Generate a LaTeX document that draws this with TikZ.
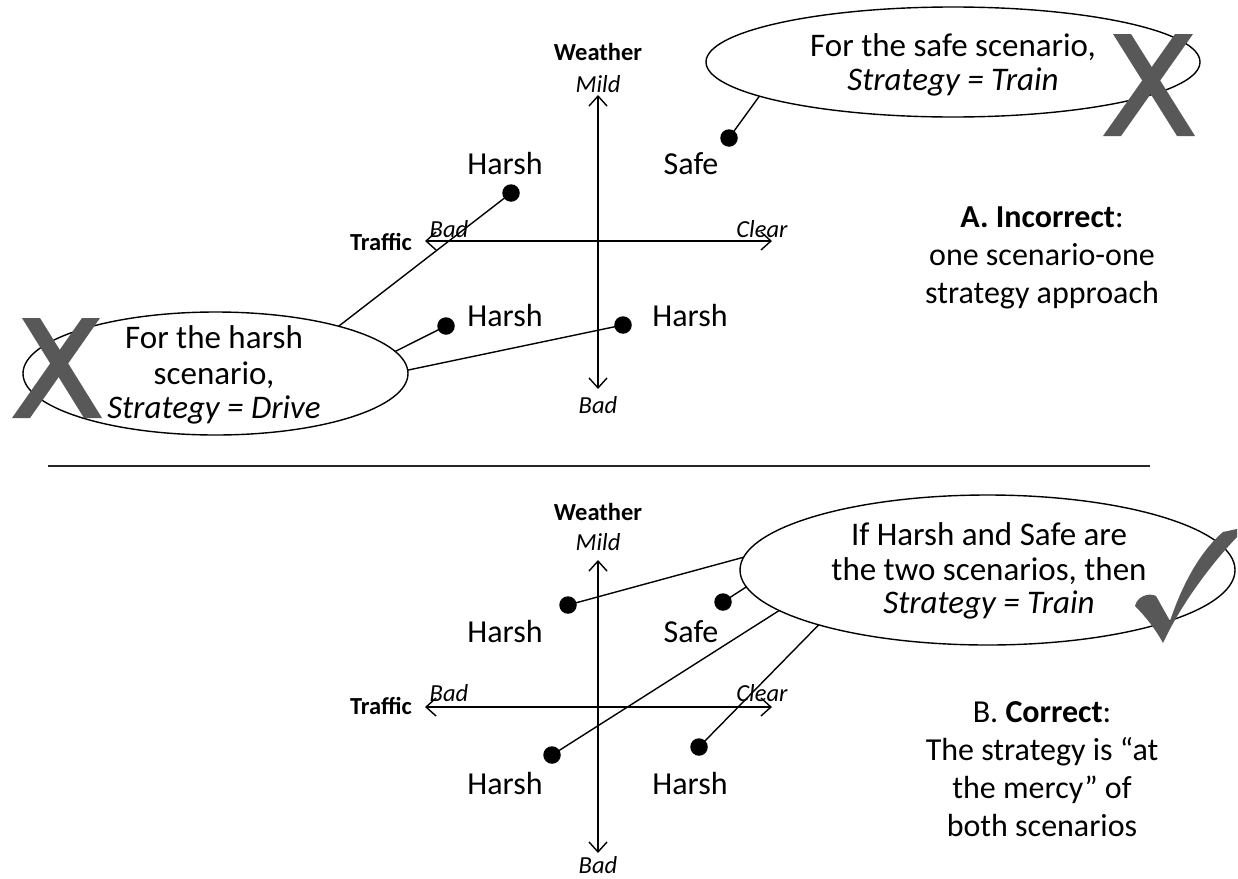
\documentclass[tikz,border=0pt]{standalone}
\usepackage{fontspec}
\setmainfont{Carlito}
\usetikzlibrary{shapes.geometric,arrows.meta}
\definecolor{markgray}{RGB}{88,88,88}
\begin{document}
\begin{tikzpicture}[x=1pt,y=-1pt,
  axis/.style={line width=1.4pt,{Straight Barb[length=10pt,width=18pt]}-{Straight Barb[length=10pt,width=18pt]}},
  conn/.style={line width=1.4pt},
  dotnode/.style={circle,fill=black,inner sep=0pt,minimum size=17.5pt},
  axlab/.style={font=\fontsize{24.5}{28}\selectfont\itshape,inner sep=0pt,anchor=base},
  axname/.style={font=\fontsize{24.5}{28}\selectfont\bfseries,inner sep=0pt,anchor=base},
  scen/.style={font=\fontsize{32}{36}\selectfont,inner sep=0pt,anchor=base},
  bubble/.style={ellipse,draw,line width=1.4pt,inner sep=0pt,outer sep=0pt},
  btext/.style={font=\fontsize{33}{36}\selectfont,inner sep=0pt,anchor=base},
  rtext/.style={font=\fontsize{32}{36}\selectfont,inner sep=0pt,anchor=base},
  graymark/.style={fill=markgray}]
\useasboundingbox (0,0) rectangle (1238,878);
% ---------- top panel ----------
\coordinate (tvt) at (598,95);
\coordinate (tvb) at (598,389);
\coordinate (thl) at (425,241);
\coordinate (thr) at (772,241);
\draw[axis] (tvb) -- (tvt);
\draw[axis] (thl) -- (thr);
\node[axname] (tw) at (598,60) {Weather};
\node[axlab] (tm) at (598,92) {Mild};
\node[axname] (tt) at (381,250) {Traffic};
\node[axlab] (tbl) at (449,237) {Bad};
\node[axlab] (tc) at (762,237) {Clear};
\node[axlab] (tbb) at (598,413) {Bad};
\node[scen] (th1) at (505,174) {Harsh};
\node[scen] (ts) at (691,174) {Safe};
\node[scen] (th2) at (505,326) {Harsh};
\node[scen] (th3) at (690,326) {Harsh};
\node[bubble,minimum width=494pt,minimum height=110pt] (TE) at (953,62) {};
\node[btext] (TE1) at (953,56) {For the safe scenario,};
\node[btext] (TE2) at (953,90) {\itshape Strategy = Train};
\node[bubble,minimum width=385pt,minimum height=123pt] (LE) at (215.5,373.5) {};
\node[btext] (LE1) at (214,348) {For the harsh};
\node[btext] (LE2) at (214,384) {scenario,};
\node[btext] (LE3) at (214,418) {\itshape Strategy = Drive};
\node[dotnode] (d1) at (511,193) {};
\node[dotnode] (d2) at (729,138) {};
\node[dotnode] (d3) at (446,326) {};
\node[dotnode] (d4) at (623,325) {};
\draw[conn] (d2.center) -- (TE.190.7);
\draw[conn] (d1.center) -- (LE.21.6);
\draw[conn] (d3.center) -- (LE.7.6);
\draw[conn] (d4.center) -- (LE.1);
% crosses
\fill[graymark] (1113,34) -- (1131,34) -- (1195,136) -- (1177,136) -- cycle;
\fill[graymark] (1175,34) -- (1193,34) -- (1121,136) -- (1103,136) -- cycle;
\fill[graymark] (22,318) -- (40,318) -- (102,418) -- (84,418) -- cycle;
\fill[graymark] (82,318) -- (100,318) -- (30,418) -- (12,418) -- cycle;
\node[rtext] (A1) at (1042,227) {\textbf{A. Incorrect}:};
\node[rtext] (A2) at (1042,265) {one scenario-one};
\node[rtext] (A3) at (1042,303) {strategy approach};
% separator
\coordinate (s1) at (48,466);
\coordinate (s2) at (1150,466);
\draw[line width=2pt,black!85] (s1) -- (s2);
% ---------- bottom panel ----------
\coordinate (bvt) at (598,560);
\coordinate (bvb) at (598,853);
\coordinate (bhl) at (425,707);
\coordinate (bhr) at (772,707);
\draw[axis] (bvb) -- (bvt);
\draw[axis] (bhl) -- (bhr);
\node[axname] (bw) at (598,520) {Weather};
\node[axlab] (bm) at (598,550) {Mild};
\node[axname] (bt) at (381,714) {Traffic};
\node[axlab] (bbl) at (449,701) {Bad};
\node[axlab] (bc) at (762,701) {Clear};
\node[axlab] (bbb) at (598,873) {Bad};
\node[scen] (bh1) at (505,642) {Harsh};
\node[scen] (bs) at (691,642) {Safe};
\node[scen] (bh2) at (505,794) {Harsh};
\node[scen] (bh3) at (690,794) {Harsh};
\node[bubble,minimum width=495pt,minimum height=150pt] (BE) at (987.5,570) {};
\node[btext] (BE1) at (989,545) {If Harsh and Safe are};
\node[btext] (BE2) at (989,580) {the two scenarios, then};
\node[btext] (BE3) at (989,613) {\itshape Strategy = Train};
\node[dotnode] (e1) at (568,605) {};
\node[dotnode] (e2) at (723,602) {};
\node[dotnode] (e3) at (552,755) {};
\node[dotnode] (e4) at (699,747) {};
\draw[conn] (e1.center) -- (BE.177.2);
\draw[conn] (e2.center) -- (BE.184.4);
\draw[conn] (e3.center) -- (BE.191);
\draw[conn] (e4.center) -- (BE.198);
% check mark
\fill[graymark] (1135,606) .. controls (1137,597) and (1148,592) .. (1156,596)
  -- (1170,621) .. controls (1179,594) and (1196,555) .. (1223,532)
  -- (1237,529) -- (1237,537) .. controls (1212,563) and (1181,604) .. (1163,643)
  .. controls (1156,630) and (1146,617) .. (1135,606) -- cycle;
\node[rtext] (B1) at (1042,722) {B. \textbf{Correct}:};
\node[rtext] (B2) at (1042,760) {The strategy is “at};
\node[rtext] (B3) at (1042,798) {the mercy” of};
\node[rtext] (B4) at (1042,836) {both scenarios};
\end{tikzpicture}
\end{document}
